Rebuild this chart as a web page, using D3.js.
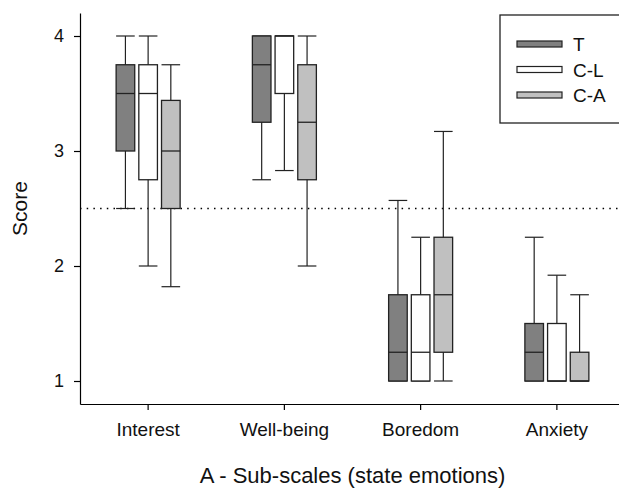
<!DOCTYPE html>
<html>
<head>
<meta charset="utf-8">
<script src="https://cdn.jsdelivr.net/npm/d3@7"></script>
<style>
  body { margin: 0; background: #fff; }
  svg { display: block; font-family: "Liberation Sans", Arial, sans-serif; }
  .axis path, .axis line { stroke: #000; stroke-width: 1.2px; }
  .axis text { fill: #111; }
</style>
</head>
<body>
<div id="chart"></div>
<script>
// categories on the x axis and the three groups
var categories = ["Interest", "Well-being", "Boredom", "Anxiety"];
var groups = ["T", "C-L", "C-A"];
var groupColors = ["#808080", "#ffffff", "#c0c0c0"];

// box stats per category: [whisker low, q1, median, q3, whisker high]
var tStats = [
  [2.5, 3.0, 3.5, 3.75, 4.0],
  [2.75, 3.25, 3.75, 4.0, 4.0],
  [1.0, 1.0, 1.25, 1.75, 2.57],
  [1.0, 1.0, 1.25, 1.5, 2.25]
];
var clStats = [
  [2.0, 2.75, 3.5, 3.75, 4.0],
  [2.83, 3.5, 4.0, 4.0, 4.0],
  [1.0, 1.0, 1.25, 1.75, 2.25],
  [1.0, 1.0, 1.0, 1.5, 1.92]
];
var caStats = [
  [1.82, 2.5, 3.0, 3.44, 3.75],
  [2.0, 2.75, 3.25, 3.75, 4.0],
  [1.0, 1.25, 1.75, 2.25, 3.17],
  [1.0, 1.0, 1.0, 1.25, 1.75]
];
var yTicks = [1, 2, 3, 4];
var refLine = 2.5;

var width = 619, height = 489;

var svg = d3.select("#chart").append("svg")
  .attr("width", width)
  .attr("height", height);

// scales
var x = d3.scaleBand().domain(categories).range([80, 625]);
var xGroup = d3.scaleBand().domain(groups).range([-32, 32]).paddingInner(0.18);
var y = d3.scaleLinear().domain([0.8, 4.2]).range([404, 13]);

// build table of boxes
var allStats = [tStats, clStats, caStats];
var boxes = [];
groups.forEach(function(g, gi) {
  categories.forEach(function(c, ci) {
    var s = allStats[gi][ci];
    boxes.push({group: g, color: groupColors[gi], cat: c,
      lo: s[0], q1: s[1], med: s[2], q3: s[3], hi: s[4]});
  });
});

// dotted reference line
svg.append("line")
  .attr("x1", x.range()[0])
  .attr("x2", x.range()[1])
  .attr("y1", y(refLine))
  .attr("y2", y(refLine))
  .attr("stroke", "#000")
  .attr("stroke-width", 1.3)
  .attr("stroke-dasharray", "1.5,5.2");

var bw = xGroup.bandwidth();

var box = svg.selectAll(".box")
  .data(boxes)
  .enter().append("g")
  .attr("class", "box")
  .attr("transform", function(d) {
    return "translate(" + (x(d.cat) + x.bandwidth() / 2 + xGroup(d.group)) + ",0)";
  });

// whisker stems
box.append("line")
  .attr("x1", bw / 2).attr("x2", bw / 2)
  .attr("y1", function(d) { return y(d.hi); })
  .attr("y2", function(d) { return y(d.lo); })
  .attr("stroke", "#222").attr("stroke-width", 1.2);

// caps
box.append("line")
  .attr("x1", 0).attr("x2", bw)
  .attr("y1", function(d) { return y(d.hi); })
  .attr("y2", function(d) { return y(d.hi); })
  .attr("stroke", "#222").attr("stroke-width", 1.2);
box.append("line")
  .attr("x1", 0).attr("x2", bw)
  .attr("y1", function(d) { return y(d.lo); })
  .attr("y2", function(d) { return y(d.lo); })
  .attr("stroke", "#222").attr("stroke-width", 1.2);

// the box
box.append("rect")
  .attr("x", 0)
  .attr("width", bw)
  .attr("y", function(d) { return y(d.q3); })
  .attr("height", function(d) { return y(d.q1) - y(d.q3); })
  .attr("fill", function(d) { return d.color; })
  .attr("stroke", "#222").attr("stroke-width", 1.3);

// median
box.append("line")
  .attr("x1", 0).attr("x2", bw)
  .attr("y1", function(d) { return y(d.med); })
  .attr("y2", function(d) { return y(d.med); })
  .attr("stroke", "#222").attr("stroke-width", 1.3);

// axes
svg.append("g")
  .attr("class", "axis")
  .attr("transform", "translate(80,0)")
  .call(d3.axisLeft(y).tickValues(yTicks).tickFormat(d3.format("d"))
    .tickSize(6).tickSizeOuter(0).tickPadding(10))
  .selectAll("text").style("font-size", "18px");

svg.append("g")
  .attr("class", "axis")
  .attr("transform", "translate(0,404)")
  .call(d3.axisBottom(x).tickSize(6).tickSizeOuter(0).tickPadding(13))
  .selectAll("text").style("font-size", "19px");

// axis titles
svg.append("text")
  .attr("x", (x.range()[0] + x.range()[1]) / 2)
  .attr("y", 483)
  .attr("text-anchor", "middle")
  .style("font-size", "22px")
  .attr("fill", "#111")
  .text("A - Sub-scales (state emotions)");

svg.append("text")
  .attr("transform", "translate(27," + ((y.range()[0] + y.range()[1]) / 2) + ") rotate(-90)")
  .attr("text-anchor", "middle")
  .style("font-size", "21px")
  .attr("fill", "#111")
  .text("Score");

// legend
var legend = svg.append("g").attr("class", "legend");
legend.append("rect")
  .attr("x", 500).attr("y", 15)
  .attr("width", 125).attr("height", 108)
  .attr("fill", "#fff")
  .attr("stroke", "#222").attr("stroke-width", 1.3);

var item = legend.selectAll(".item")
  .data(groups)
  .enter().append("g")
  .attr("class", "item")
  .attr("transform", function(d, i) { return "translate(0," + (44 + i * 25.5) + ")"; });

item.append("rect")
  .attr("x", 517).attr("y", -3)
  .attr("width", 45).attr("height", 6)
  .attr("fill", function(d, i) { return groupColors[i]; })
  .attr("stroke", "#222").attr("stroke-width", 1.2);

item.append("text")
  .attr("x", 573).attr("y", 7)
  .style("font-size", "19px")
  .attr("fill", "#111")
  .text(function(d) { return d; });
</script>
</body>
</html>
